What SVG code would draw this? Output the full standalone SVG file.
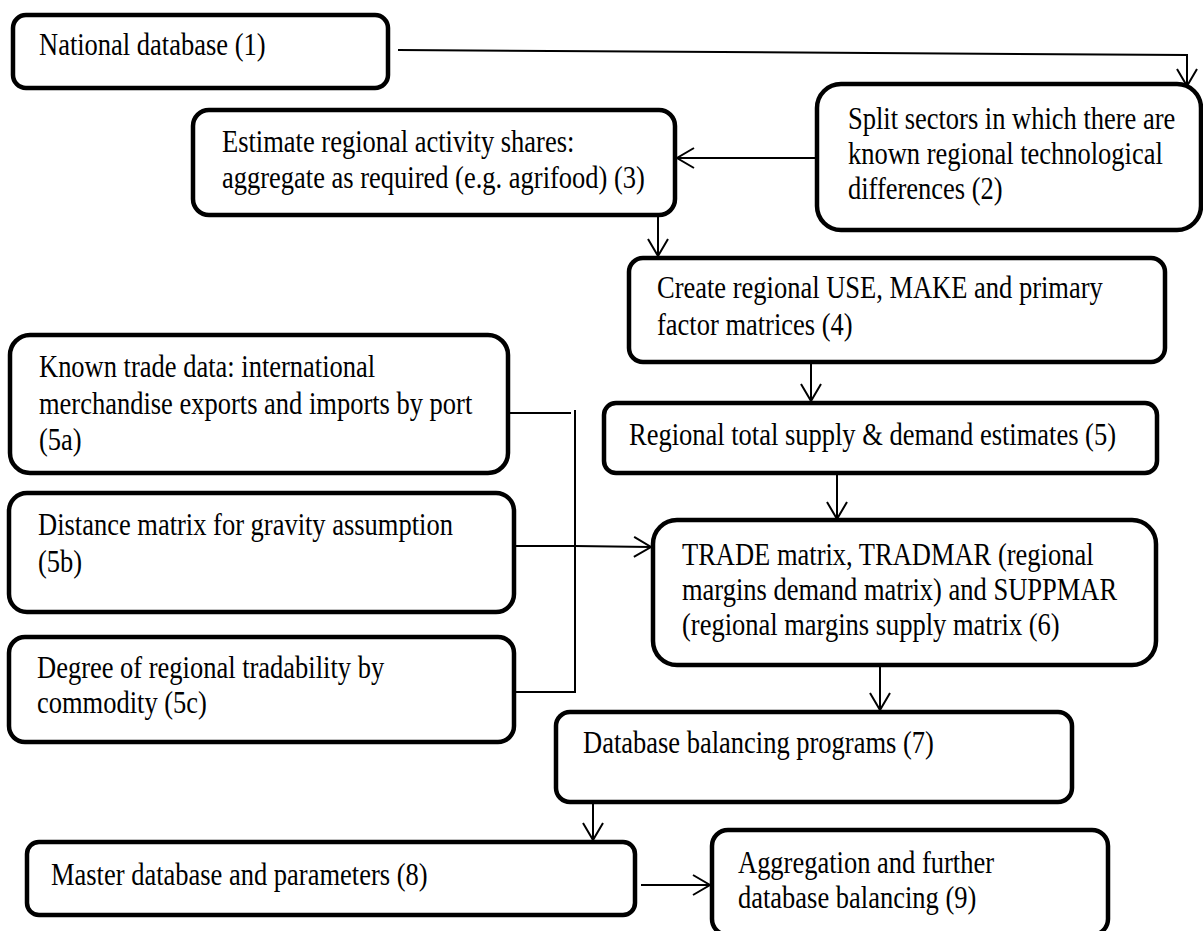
<svg xmlns="http://www.w3.org/2000/svg" width="1203" height="931" viewBox="0 0 1203 931">
<defs>
<style>
.box{fill:#fff;stroke:#000;stroke-width:4.5}
.t{font-family:"Liberation Serif","Times New Roman",serif;font-size:26.5px;fill:#000}
.c{fill:none;stroke:#000;stroke-width:2}
</style>
<marker id="ah" markerUnits="userSpaceOnUse" markerWidth="24" markerHeight="24" viewBox="-20 -12 24 24" refX="0" refY="0" orient="auto">
<path d="M-17,-10 L0,0 L-17,10" fill="none" stroke="#000" stroke-width="2"/>
</marker>
</defs>
<rect width="1203" height="931" fill="#fff"/>
<g id="connectors">
<path class="c" d="M398,50 L1187,55 L1187,86" marker-end="url(#ah)"/>
<path class="c" d="M817,158 L677,158" marker-end="url(#ah)"/>
<path class="c" d="M658,215 L658,256" marker-end="url(#ah)"/>
<path class="c" d="M811,362 L811,401" marker-end="url(#ah)"/>
<path class="c" d="M837,473 L837,519" marker-end="url(#ah)"/>
<path class="c" d="M508,413 L571,413 M575,410 L575,693 M514,692 L575,692"/>
<path class="c" d="M514,546 L575,546 L651,547" marker-end="url(#ah)"/>
<path class="c" d="M880,665 L880,710" marker-end="url(#ah)"/>
<path class="c" d="M593,802 L593,840" marker-end="url(#ah)"/>
<path class="c" d="M641,885 L710,885" marker-end="url(#ah)"/>
</g>
<g id="n1"><rect class="box" x="13" y="15" width="375" height="73" rx="13"/>
<text class="t" transform="translate(39,55) scale(1,1.17)">National database (1)</text></g>
<g id="n2"><rect class="box" x="817" y="84" width="384" height="146" rx="24"/>
<text class="t" transform="translate(848,129) scale(1,1.17)"><tspan x="0" y="0">Split sectors in which there are</tspan><tspan x="0" y="29.9">known regional technological</tspan><tspan x="0" y="59.8">differences (2)</tspan></text></g>
<g id="n3"><rect class="box" x="193" y="110" width="482" height="105" rx="16"/>
<text class="t" transform="translate(222,152) scale(1,1.17)"><tspan x="0" y="0">Estimate regional activity shares:</tspan><tspan x="0" y="30.8">aggregate as required (e.g. agrifood) (3)</tspan></text></g>
<g id="n4"><rect class="box" x="629" y="258" width="536" height="104" rx="14"/>
<text class="t" transform="translate(657,298) scale(1,1.17)"><tspan x="0" y="0">Create regional USE, MAKE and primary</tspan><tspan x="0" y="31.6">factor matrices (4)</tspan></text></g>
<g id="n5"><rect class="box" x="604" y="403" width="553" height="70" rx="12"/>
<text class="t" transform="translate(629,445) scale(1,1.17)">Regional total supply &amp; demand estimates (5)</text></g>
<g id="n5a"><rect class="box" x="10" y="335" width="498" height="138" rx="20"/>
<text class="t" transform="translate(39,377) scale(1,1.17)"><tspan x="0" y="0">Known trade data: international</tspan><tspan x="0" y="31.6">merchandise exports and imports by port</tspan><tspan x="0" y="62.4">(5a)</tspan></text></g>
<g id="n5b"><rect class="box" x="9" y="493" width="505" height="119" rx="18"/>
<text class="t" transform="translate(38,535) scale(1,1.17)"><tspan x="0" y="0">Distance matrix for gravity assumption</tspan><tspan x="0" y="31.6">(5b)</tspan></text></g>
<g id="n5c"><rect class="box" x="9" y="637" width="505" height="105" rx="16"/>
<text class="t" transform="translate(37,678) scale(1,1.17)"><tspan x="0" y="0">Degree of regional tradability by</tspan><tspan x="0" y="29.9">commodity (5c)</tspan></text></g>
<g id="n6"><rect class="box" x="653" y="520" width="503" height="145" rx="24"/>
<text class="t" transform="translate(682,565) scale(1,1.17)"><tspan x="0" y="0">TRADE matrix, TRADMAR (regional</tspan><tspan x="0" y="29.9">margins demand matrix) and SUPPMAR</tspan><tspan x="0" y="59.8">(regional margins supply matrix (6)</tspan></text></g>
<g id="n7"><rect class="box" x="556" y="712" width="516" height="90" rx="14"/>
<text class="t" transform="translate(583,753) scale(1,1.17)">Database balancing programs (7)</text></g>
<g id="n8"><rect class="box" x="27" y="842" width="608" height="73" rx="12"/>
<text class="t" transform="translate(51,885) scale(1,1.17)">Master database and parameters (8)</text></g>
<g id="n9"><rect class="box" x="712" y="830" width="396" height="105" rx="16"/>
<text class="t" transform="translate(738,873) scale(1,1.17)"><tspan x="0" y="0">Aggregation and further</tspan><tspan x="0" y="29.9">database balancing (9)</tspan></text></g>
</svg>
